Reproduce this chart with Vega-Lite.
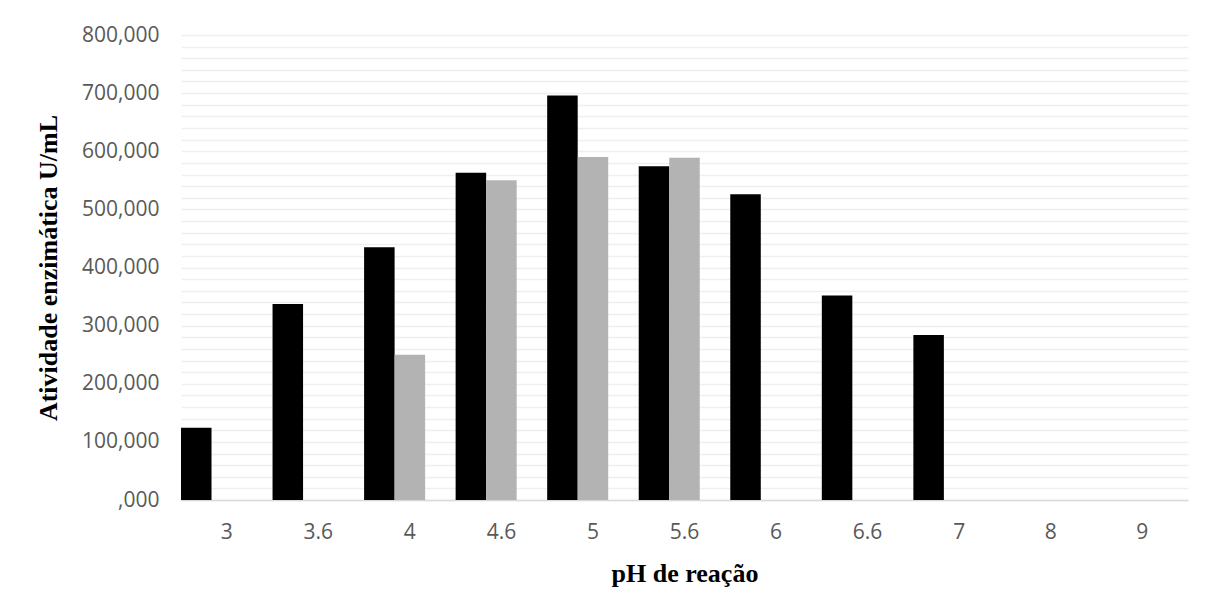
{
  "$schema": "https://vega.github.io/schema/vega-lite/v6.json",
  "width": 1007,
  "height": 465,
  "autosize": {"type": "none"},
  "padding": {"left": 181, "top": 35, "right": 28, "bottom": 113},
  "background": "white",
  "config": {"view": {"stroke": null}},
  "data": {
    "values": [
      {"pH": "3", "serie": "A", "atividade": 124500},
      {"pH": "3.6", "serie": "A", "atividade": 337000},
      {"pH": "4", "serie": "A", "atividade": 435000},
      {"pH": "4", "serie": "B", "atividade": 250000},
      {"pH": "4.6", "serie": "A", "atividade": 563000},
      {"pH": "4.6", "serie": "B", "atividade": 550000},
      {"pH": "5", "serie": "A", "atividade": 696000},
      {"pH": "5", "serie": "B", "atividade": 590000},
      {"pH": "5.6", "serie": "A", "atividade": 574000},
      {"pH": "5.6", "serie": "B", "atividade": 589000},
      {"pH": "6", "serie": "A", "atividade": 526000},
      {"pH": "6.6", "serie": "A", "atividade": 352000},
      {"pH": "7", "serie": "A", "atividade": 284000},
      {"pH": "8", "serie": "A", "atividade": 0},
      {"pH": "9", "serie": "A", "atividade": 0}
    ]
  },
  "mark": {"type": "bar"},
  "encoding": {
    "x": {
      "field": "pH",
      "type": "nominal",
      "scale": {"domain": ["3", "3.6", "4", "4.6", "5", "5.6", "6", "6.6", "7", "8", "9"], "paddingInner": 0, "paddingOuter": 0},
      "axis": {
        "title": "pH de reação",
        "titleFont": "Liberation Serif",
        "titleFontSize": 26,
        "titleFontWeight": "bold",
        "titleColor": "#000000",
        "titlePadding": 18,
        "labelAngle": 0,
        "labelFont": "Open Sans",
        "labelFontSize": 21,
        "labelColor": "#595959",
        "labelPadding": 21,
        "ticks": false,
        "domainColor": "#d9d9d9",
        "domainWidth": 1.5
      }
    },
    "xOffset": {
      "field": "serie",
      "type": "nominal",
      "scale": {"domain": ["A", "B", "C"], "paddingInner": 0, "paddingOuter": 0}
    },
    "y": {
      "field": "atividade",
      "type": "quantitative",
      "scale": {"domain": [0, 800000], "nice": false},
      "axis": {
        "title": "Atividade enzimática U/mL",
        "titleFont": "Liberation Serif",
        "titleFontSize": 26,
        "titleFontWeight": "bold",
        "titleColor": "#000000",
        "titlePadding": 20,
        "values": [0, 20000, 40000, 60000, 80000, 100000, 120000, 140000, 160000, 180000, 200000, 220000, 240000, 260000, 280000, 300000, 320000, 340000, 360000, 380000, 400000, 420000, 440000, 460000, 480000, 500000, 520000, 540000, 560000, 580000, 600000, 620000, 640000, 660000, 680000, 700000, 720000, 740000, 760000, 780000, 800000],
        "labelExpr": "datum.value % 100000 == 0 ? (datum.value == 0 ? ',000' : format(datum.value, ',')) : ''",
        "labelFont": "Open Sans",
        "labelFontSize": 21,
        "labelColor": "#595959",
        "labelPadding": 22,
        "ticks": false,
        "domain": false,
        "grid": true,
        "gridColor": "#efefef",
        "gridWidth": 1.5
      }
    },
    "color": {
      "field": "serie",
      "type": "nominal",
      "scale": {"domain": ["A", "B", "C"], "range": ["#000000", "#b3b3b3", "#7f7f7f"]},
      "legend": null
    }
  }
}
